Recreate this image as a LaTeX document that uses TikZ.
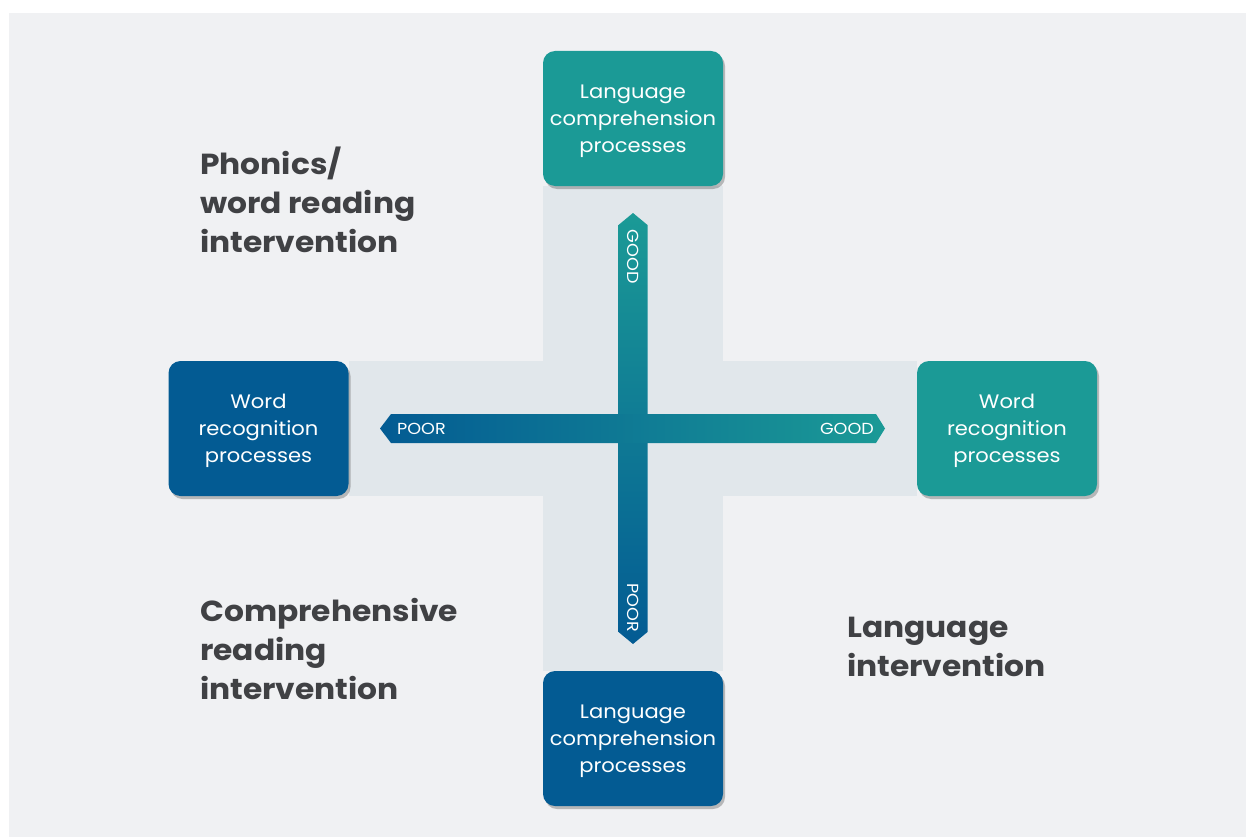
\documentclass[tikz,border=0pt]{standalone}
\usepackage{fontspec}
\setmainfont{Poppins}
\newfontfamily\widefont{Poppins}[FakeStretch=1.08]
\newfontfamily\widerfont{Poppins}[FakeStretch=1.1]
\usetikzlibrary{shadows,backgrounds,calc}
\definecolor{tealbox}{HTML}{1B9A96}
\definecolor{bluebox}{HTML}{035B93}
\definecolor{panel}{HTML}{F0F1F3}
\definecolor{band}{HTML}{E1E7EB}
\definecolor{labelgray}{HTML}{404144}
\tikzset{
  procbox/.style={rounded corners=12pt, minimum width=180pt, minimum height=135pt,
    inner sep=0pt, text=white, align=center, text depth=0pt,
    font=\widefont\fontsize{19.5}{27}\selectfont,
    drop shadow={shadow xshift=2pt, shadow yshift=-3pt, opacity=0.35, fill=black!70}},
  tealfill/.style={procbox, fill=tealbox},
  bluefill/.style={procbox, fill=bluebox},
  quadlabel/.style={anchor=west, align=left, text=labelgray, inner sep=0pt,
    font=\widefont\fontsize{29}{39}\selectfont\bfseries},
  axislabel/.style={text=white, inner sep=0pt, font=\widerfont\fontsize{16}{18}\selectfont}
}
\begin{document}
\begin{tikzpicture}[x=1pt,y=-1pt]
\useasboundingbox (0,0) rectangle (1246,837);
% boxes
\node[tealfill] (top) at (633,118.5) {Language\\comprehension\\processes};
\node[bluefill] (bot) at (633,738.5) {Language\\comprehension\\processes};
\node[bluefill] (lft) at (258.5,428.5) {Word\\recognition\\processes};
\node[tealfill] (rgt) at (1007,428.5) {Word\\recognition\\processes};
\coordinate (c) at (633,428.5);
\begin{scope}[on background layer]
  \fill[white] (0,0) rectangle (1246,837);
  \fill[panel] (9,13) rectangle (1246,837);
  \fill[band] (top.south west) rectangle (bot.north east);
  \fill[band] (lft.north east) rectangle (rgt.south west);
\end{scope}
% vertical axis arrow
\shade[top color=tealbox, bottom color=bluebox]
  ($(c)+(0,-215.5)$) -- ($(c)+(14.5,-203.5)$) -- ($(c)+(14.5,203.5)$) -- ($(c)+(0,215.5)$)
  -- ($(c)+(-14.5,203.5)$) -- ($(c)+(-14.5,-203.5)$) -- cycle;
% horizontal axis arrow
\shade[left color=bluebox, right color=tealbox]
  ($(c)+(-253,0)$) -- ($(c)+(-242,-14.5)$) -- ($(c)+(243,-14.5)$) -- ($(c)+(252,0)$)
  -- ($(c)+(243,14.5)$) -- ($(c)+(-242,14.5)$) -- cycle;
\node[axislabel, anchor=west] (poorh) at ($(c)+(-236,0)$) {POOR};
\node[axislabel, anchor=east] (goodh) at ($(c)+(241,0)$) {GOOD};
\node[axislabel, anchor=west, rotate=-90] (goodv) at ($(c)+(0,-199)$) {GOOD};
\node[axislabel, anchor=east, rotate=-90] (poorv) at ($(c)+(0,204)$) {POOR};
% quadrant labels
\node[quadlabel] (q1) at (200,200) {Phonics/\\word reading\\intervention};
\node[quadlabel] (q3) at (200,648.5) {Comprehensive\\reading\\intervention};
\node[quadlabel] (q4) at (847,647) {Language\\intervention};
\end{tikzpicture}
\end{document}
